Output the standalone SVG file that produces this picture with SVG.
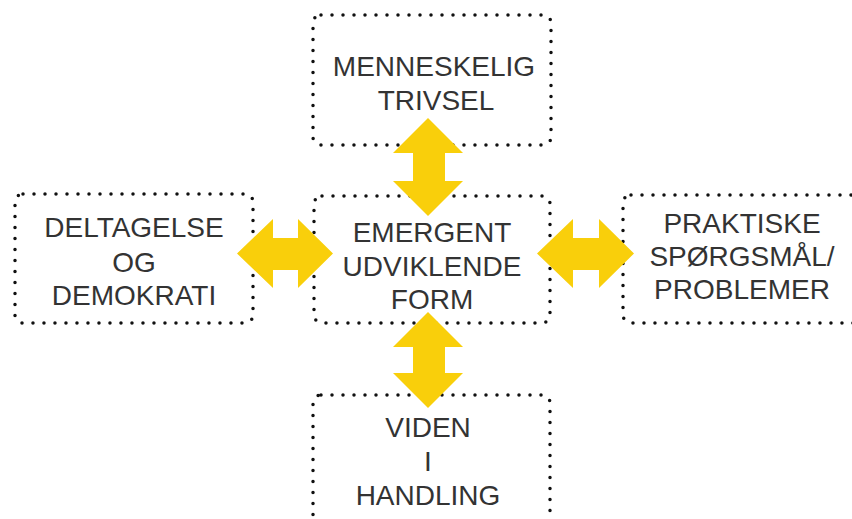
<svg xmlns="http://www.w3.org/2000/svg" width="852" height="519" viewBox="0 0 852 519">
<style>
.box{fill:none;stroke:#111;stroke-width:3.5;stroke-dasharray:0 11;stroke-linecap:round}
.t{font-family:"Liberation Sans",Arial,sans-serif;font-size:28px;fill:#333;text-anchor:middle}
.arr{fill:#F9CF0B}
</style>
<rect width="852" height="519" fill="#fff"/>
<g id="node-top">
<rect class="box" x="313" y="15" width="238" height="130" rx="8"/>
<text class="t" x="434" y="76">MENNESKELIG</text>
<text class="t" x="436" y="110">TRIVSEL</text>
</g>
<g id="node-center">
<rect class="box" x="314" y="196" width="236" height="127" rx="8"/>
<text class="t" x="432" y="242">EMERGENT</text>
<text class="t" x="432" y="276">UDVIKLENDE</text>
<text class="t" x="432" y="309">FORM</text>
</g>
<g id="node-left">
<rect class="box" x="15" y="194" width="238" height="129" rx="8"/>
<text class="t" x="134" y="237">DELTAGELSE</text>
<text class="t" x="134" y="272">OG</text>
<text class="t" x="134" y="305">DEMOKRATI</text>
</g>
<g id="node-right">
<rect class="box" x="623" y="195" width="240" height="128" rx="8"/>
<text class="t" x="742" y="233">PRAKTISKE</text>
<text class="t" x="742" y="266">SPØRGSMÅL/</text>
<text class="t" x="742" y="299">PROBLEMER</text>
</g>
<g id="node-bottom">
<rect class="box" x="313" y="395" width="237" height="140" rx="8"/>
<text class="t" x="428" y="437">VIDEN</text>
<text class="t" x="428" y="471">I</text>
<text class="t" x="428" y="505">HANDLING</text>
</g>
<g id="connectors">
<polygon class="arr" points="428,118 463,153 445,153 445,181 463,181 428,216 393,181 413,181 413,153 393,153"/>
<polygon class="arr" points="428,312 463,347 445,347 445,373 463,373 428,408 393,373 413,373 413,347 393,347"/>
<polygon class="arr" points="237,253.5 273,219 273,238 298,238 298,219 333,253.5 298,288 298,270 273,270 273,288"/>
<polygon class="arr" points="537,253.5 573,219 573,238 599,238 599,219 634,253.5 599,288 599,270 573,270 573,288"/>
</g>
</svg>
